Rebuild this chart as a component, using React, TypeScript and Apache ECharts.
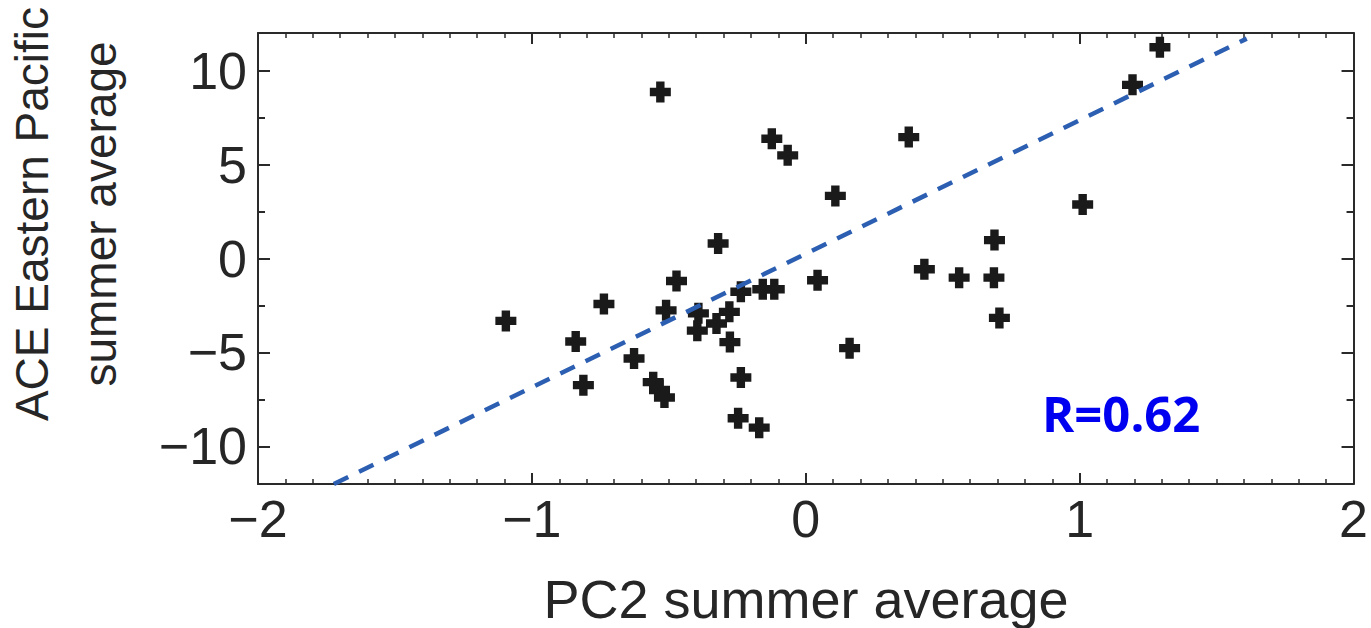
import React, { useEffect, useRef } from "react";
import * as echarts from "echarts";

// PC2 summer average (x) vs ACE Eastern Pacific summer average (y)
const pc2Values: number[] = [
  -1.095, -0.84, -0.812, -0.737, -0.627, -0.557, -0.534, -0.516, -0.531, -0.51,
  -0.472, -0.32, -0.392, -0.396, -0.326, -0.279, -0.277, -0.237, -0.237, -0.247,
  -0.17, -0.157, -0.115, -0.124, -0.066, 0.043, 0.108, 0.16, 0.376, 0.433,
  0.56, 0.687, 0.689, 0.707, 1.011, 1.193, 1.293,
];
const aceValues: number[] = [
  -3.32, -4.42, -6.74, -2.42, -5.32, -6.58, -7.0, -7.4, 8.86, -2.76,
  -1.2, 0.8, -2.92, -3.84, -3.46, -2.84, -4.45, -1.77, -6.33, -8.5,
  -9.0, -1.64, -1.64, 6.37, 5.49, -1.16, 3.33, -4.77, 6.46, -0.57,
  -1.02, -1.02, 0.98, -3.16, 2.87, 9.24, 11.24,
];
// regression line end points
const fitX: number[] = [-1.723, 1.61];
const fitY: number[] = [-12, 11.7];

const xTicks: number[] = [-2, -1, 0, 1, 2];
const yMajorTicks: number[] = [-10, -5, 0, 5, 10];
const yMinorTicks: number[] = [-7.5, -2.5, 2.5, 7.5];

const rLabel = "R=0.62";
const xTitle = "PC2 summer average";
const yTitle = "ACE Eastern Pacific\nsummer average";

const FONT = "'Liberation Sans', Arial, Helvetica, sans-serif";
const AXIS_COLOR = "#2a2a2a";
const TEXT_COLOR = "#262626";

const fmt = (v: number) => (v < 0 ? "\u2212" + Math.abs(v) : String(v));

const plusSymbol = "path://M6,0H14V6H20V14H14V20H6V14H0V6H6Z";

export default function App() {
  const ref = useRef<HTMLDivElement>(null);

  useEffect(() => {
    document.body.style.margin = "0";
    if (!ref.current) return;
    const chart = echarts.init(ref.current, undefined, { renderer: "svg" });

    const points = pc2Values.map((x, i) => [x, aceValues[i]]);
    const fit = fitX.map((x, i) => [x, fitY[i]]);

    const baseX = (position: "bottom" | "top", labels: boolean) => ({
      type: "value",
      position,
      min: xTicks[0],
      max: xTicks[xTicks.length - 1],
      interval: 1,
      axisLine: { show: true, onZero: false, lineStyle: { color: AXIS_COLOR, width: 2 } },
      axisTick: { show: true, inside: true, length: 11, lineStyle: { color: AXIS_COLOR, width: 2 } },
      minorTick: { show: true, splitNumber: 10, length: 5, lineStyle: { color: AXIS_COLOR, width: 1.5 } },
      splitLine: { show: false },
      minorSplitLine: { show: false },
      axisLabel: {
        show: labels,
        margin: 9,
        fontSize: 52,
        fontFamily: FONT,
        color: TEXT_COLOR,
        formatter: fmt,
      },
    });

    const baseY = (position: "left" | "right", values: number[], len: number, labels: boolean, line: boolean) => ({
      type: "value",
      position,
      min: -12,
      max: 12,
      axisLine: { show: line, onZero: false, lineStyle: { color: AXIS_COLOR, width: 2 } },
      axisTick: {
        show: true,
        inside: true,
        length: len,
        customValues: values,
        lineStyle: { color: AXIS_COLOR, width: 2 },
      },
      splitLine: { show: false },
      axisLabel: {
        show: labels,
        customValues: values,
        margin: 11,
        fontSize: 52,
        fontFamily: FONT,
        color: TEXT_COLOR,
        formatter: fmt,
      },
    });

    chart.setOption({
      animation: false,
      backgroundColor: "#ffffff",
      grid: { left: 258, right: 16, top: 33, bottom: 144, containLabel: false },
      xAxis: [baseX("bottom", true), baseX("top", false)],
      yAxis: [
        baseY("left", yMajorTicks, 12, true, true),
        baseY("right", yMajorTicks, 12, false, true),
        baseY("left", yMinorTicks, 7, false, false),
        baseY("right", yMinorTicks, 7, false, false),
      ],
      graphic: [
        {
          type: "text",
          x: 806,
          y: 599,
          style: {
            text: xTitle,
            fontSize: 54,
            fontFamily: FONT,
            fill: TEXT_COLOR,
            align: "center",
            verticalAlign: "middle",
          },
        },
        {
          type: "text",
          x: 66,
          y: 214,
          rotation: Math.PI / 2,
          style: {
            text: yTitle,
            fontSize: 46,
            lineHeight: 68,
            fontFamily: FONT,
            fill: TEXT_COLOR,
            align: "center",
            verticalAlign: "middle",
          },
        },
        {
          type: "text",
          x: 1042,
          y: 413,
          style: {
            text: rLabel,
            fontSize: 49,
            fontWeight: "bold",
            fontFamily: "'Open Sans', 'Noto Sans', sans-serif",
            fill: "#0000f0",
            align: "left",
            verticalAlign: "middle",
          },
        },
      ],
      series: [
        {
          type: "scatter",
          xAxisIndex: 0,
          yAxisIndex: 0,
          data: points,
          symbol: plusSymbol,
          symbolSize: 21,
          itemStyle: { color: "#1a1a1a", opacity: 1 },
          z: 2,
        },
        {
          type: "line",
          xAxisIndex: 0,
          yAxisIndex: 0,
          data: fit,
          showSymbol: false,
          symbol: "none",
          lineStyle: { color: "#2c5fb2", width: 4.5, type: [16, 12] },
          z: 3,
        },
      ],
    });

    return () => chart.dispose();
  }, []);

  return <div ref={ref} style={{ width: 1371, height: 628 }} />;
}
